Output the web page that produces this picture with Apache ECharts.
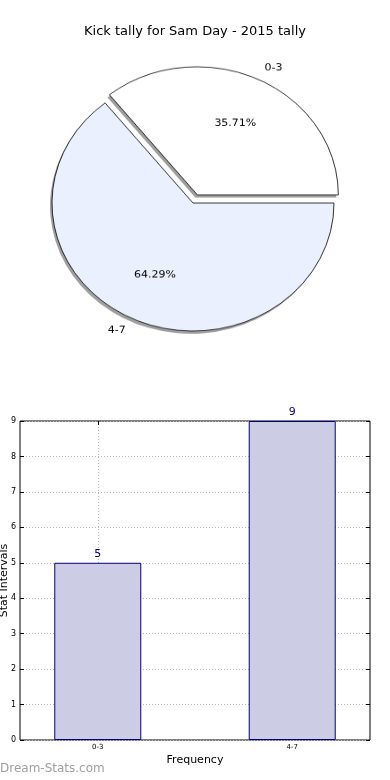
<!DOCTYPE html>
<html>
<head>
<meta charset="utf-8">
<script src="https://cdn.jsdelivr.net/npm/echarts@6/dist/echarts.min.js"></script>
<style>
html,body{margin:0;padding:0;background:#fff;}
#bar{position:absolute;left:0;top:0;width:390px;height:780px;}
#pie{position:absolute;left:0;top:0;width:390px;height:400px;transform:scaleY(0.908);transform-origin:0 203px;pointer-events:none;}
</style>
</head>
<body>
<div id="bar"></div>
<div id="pie"></div>
<script>
const titleText = 'Kick tally for Sam Day - 2015 tally';
const categories = ['0-3', '4-7'];
const values = [5, 9];
const pieColors = ['#ffffff', '#eaf0fd'];
const yTicks = [0, 1, 2, 3, 4, 5, 6, 7, 8, 9];
const xAxisName = 'Frequency';
const yAxisName = 'Stat Intervals';
const watermark = 'Dream-Stats.com';

const FONT = 'DejaVu Sans';
const catPos = categories.map((c, i) => i);

// ---------- Bar chart + title ----------
const bar = echarts.init(document.getElementById('bar'), null, {renderer: 'canvas'});
const xBase = {
  type: 'value', min: -0.4, max: 1.4, interval: 0.2,
  axisLine: {show: false, onZero: false},
  axisTick: {show: true, inside: true, length: 4, customValues: catPos, lineStyle: {color: '#000', width: 1}},
  splitLine: {show: false}
};
const yBase = {
  type: 'value', min: 0, max: 9, interval: 1,
  axisLine: {show: false, onZero: false},
  axisTick: {show: true, inside: true, length: 4, lineStyle: {color: '#000', width: 1}},
  splitLine: {show: false}
};
bar.setOption({
  animation: false,
  title: {
    text: titleText, left: 'center', top: 20,
    textStyle: {fontFamily: FONT, fontSize: 13, fontWeight: 'normal', color: '#000'}
  },
  graphic: [{
    type: 'text', left: 0, top: 763,
    style: {text: watermark, fontFamily: FONT, fontSize: 12, fontWeight: 'normal', fill: '#a0a0a0'}
  }],
  grid: {left: 20, right: 20, top: 421, bottom: 40, outerBoundsMode: 'none', containLabel: false,
    show: true, borderColor: '#000', borderWidth: 1, backgroundColor: 'transparent'},
  xAxis: [
    Object.assign({}, xBase, {
      position: 'bottom',
      name: xAxisName, nameLocation: 'middle', nameGap: 15,
      nameTextStyle: {fontFamily: FONT, fontSize: 11, color: '#000'},
      axisLabel: {show: true, customValues: catPos, fontFamily: FONT, fontSize: 7, color: '#000', margin: 4,
        formatter: v => { const i = Math.round(v); return Math.abs(v - i) < 1e-6 && categories[i] !== undefined ? categories[i] : ''; }},
      splitLine: {show: true, lineStyle: {color: '#b8b8b8', type: [1, 2], width: 1}}
    }),
    Object.assign({}, xBase, {position: 'top', axisLabel: {show: false}})
  ],
  yAxis: [
    Object.assign({}, yBase, {
      position: 'left',
      name: yAxisName, nameLocation: 'middle', nameGap: 10, nameMoveOverlap: false,
      nameTextStyle: {fontFamily: FONT, fontSize: 11, color: '#000'},
      axisLabel: {show: true, fontFamily: FONT, fontSize: 8, color: '#000', margin: 4,
        formatter: v => yTicks.indexOf(v) >= 0 ? String(v) : ''},
      splitLine: {show: true, lineStyle: {color: '#b8b8b8', type: [1, 2], width: 1}}
    }),
    Object.assign({}, yBase, {position: 'right', axisLabel: {show: false}})
  ],
  series: [{
    type: 'bar',
    xAxisIndex: 0, yAxisIndex: 0,
    barWidth: 87,
    data: catPos.map((p, i) => [p, values[i]]),
    itemStyle: {color: '#ccccE4', borderColor: '#000080', borderWidth: 1},
    label: {show: true, position: 'top', distance: 3, fontFamily: FONT, fontSize: 11, color: '#000080'},
    z: 1
  }]
});

// ---------- Pie chart ----------
const pie = echarts.init(document.getElementById('pie'), null, {renderer: 'canvas'});
const R = 141;
const center = [193, 203];
const shadowCenter = [191, 206];
const common = {
  startAngle: 0, clockwise: false,
  selectedMode: 'single', selectedOffset: 10,
  avoidLabelOverlap: false,
  emphasis: {disabled: true}
};
pie.setOption({
  animation: false,
  series: [
    Object.assign({}, common, {
      type: 'pie', center: shadowCenter, radius: [0, R], silent: true,
      itemStyle: {color: 'rgba(80,80,80,0.55)', borderWidth: 0},
      label: {show: false}, labelLine: {show: false},
      data: categories.map((c, i) => ({name: c, value: values[i], selected: i === 0}))
    }),
    Object.assign({}, common, {
      type: 'pie', center: center, radius: [0, R],
      itemStyle: {borderColor: '#000', borderWidth: 0.8},
      label: {show: true, position: 'outside', formatter: '{b}', fontFamily: FONT, fontSize: 11, color: '#000', distanceToLabelLine: 0},
      labelLine: {show: false, length: 14, length2: 0},
      data: categories.map((c, i) => ({name: c, value: values[i], selected: i === 0, itemStyle: {color: pieColors[i]}}))
    }),
    Object.assign({}, common, {
      type: 'pie', center: center, radius: [0, R * 1.2], silent: true,
      itemStyle: {color: 'transparent', borderWidth: 0},
      label: {show: true, position: 'inside', formatter: '{d}%', fontFamily: FONT, fontSize: 11, color: '#000'},
      labelLine: {show: false},
      data: categories.map((c, i) => ({name: c, value: values[i], selected: i === 0}))
    })
  ]
});
</script>
</body>
</html>
